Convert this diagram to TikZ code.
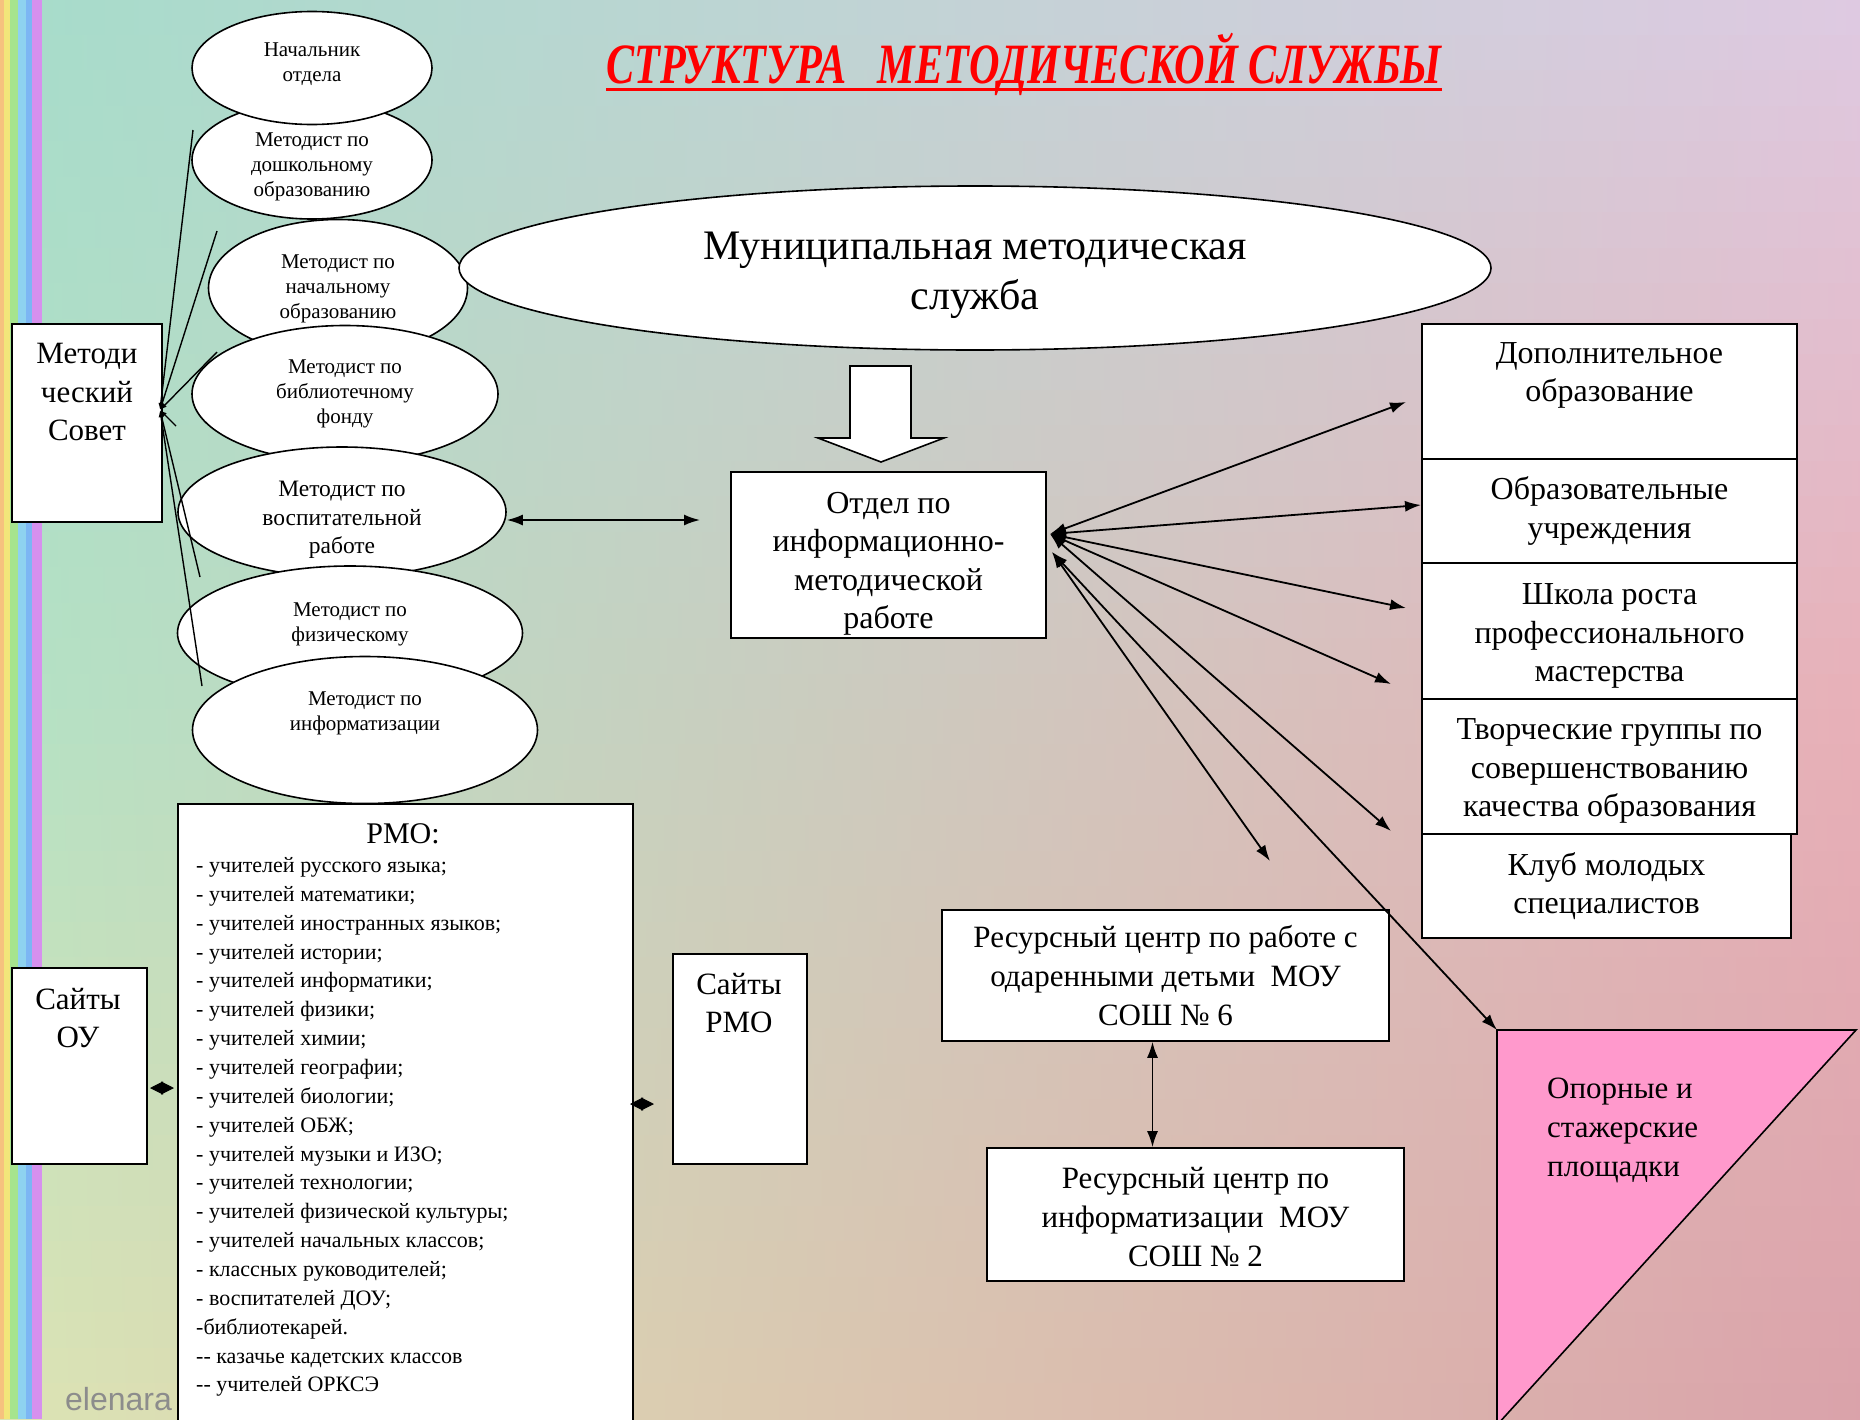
\documentclass[tikz,border=0pt]{standalone}
\usepackage{fontspec}
\setmainfont{Liberation Serif}
\newfontfamily\wmfont{Liberation Sans}
\usetikzlibrary{shapes.geometric,arrows.meta}
\definecolor{tL}{HTML}{A6DCCA}
\definecolor{tM}{HTML}{B0E2EE}
\definecolor{tR}{HTML}{DECAE2}
\definecolor{mL}{HTML}{B4E2C4}
\definecolor{mM}{HTML}{F0E4CC}
\definecolor{mR}{HTML}{E8B0B8}
\definecolor{bL}{HTML}{DCE4B4}
\definecolor{bM}{HTML}{F4C8A8}
\definecolor{bR}{HTML}{DAA2AA}
\definecolor{pinktri}{HTML}{FF99CC}
\definecolor{s1}{HTML}{F6C27E}
\definecolor{s2}{HTML}{F2E67A}
\definecolor{s3}{HTML}{A6E48E}
\definecolor{s4}{HTML}{8ED2F0}
\definecolor{s5}{HTML}{7CB6F4}
\definecolor{s6}{HTML}{D690EE}
\newcommand{\fsz}[2]{\fontsize{#1}{#2}\selectfont}
\begin{document}
\begin{tikzpicture}[x=1pt,y=-1pt,
  ell/.style={ellipse, draw, fill=white, line width=1.6pt, inner sep=0pt},
  etxt/.style={inner sep=0pt, align=center, font=\fsz{21}{25}},
  bx/.style={rectangle, draw, fill=white, line width=1.6pt, inner sep=0pt, align=center},
  txt/.style={inner sep=0pt, align=center},
  arr/.style={line width=1.8pt, {Latex[length=16pt,width=11pt]}-{Latex[length=16pt,width=11pt]}},
  mcline/.style={line width=1.4pt, {Latex[length=7pt,width=5pt]}-},
  dia/.style={line width=1pt, {Triangle[length=13pt,width=13pt]}-{Triangle[length=13pt,width=13pt]}}]
\useasboundingbox (0,0) rectangle (1860,1419);
% background
\foreach \i in {0,...,39}{%
  \pgfmathsetmacro\ya{\i*35.475}%
  \pgfmathsetmacro\yb{\ya+36.5}%
  \ifnum\i<20
    \pgfmathsetmacro\p{100-(\i+0.5)*5}%
    \colorlet{cL}{tL!\p!mL}\colorlet{cM}{tM!\p!mM}\colorlet{cR}{tR!\p!mR}%
  \else
    \pgfmathsetmacro\p{100-(\i-19.5)*5}%
    \colorlet{cL}{mL!\p!bL}\colorlet{cM}{mM!\p!bM}\colorlet{cR}{mR!\p!bR}%
  \fi
  \fill[left color=cL, middle color=cM, right color=cR] (0,\ya) rectangle (1860,\yb);
}
\fill[s1] (0,0) rectangle (4,1419);
\fill[s2] (4,0) rectangle (10,1419);
\fill[s3] (10,0) rectangle (18,1419);
\fill[s4] (18,0) rectangle (26,1419);
\fill[s5] (26,0) rectangle (32,1419);
\fill[s6] (32,0) rectangle (42,1419);
\node[anchor=base west, inner sep=0pt, text=black!45, font=\wmfont\fsz{32}{36}] (wm) at (65,1410) {elenara};
% title
\node[anchor=base, inner sep=0pt, text=red, font=\fsz{57}{64}\bfseries\itshape] (title) at (1024,83)
  {\scalebox{0.74}[1]{СТРУКТУРА\ \ \ МЕТОДИЧЕСКОЙ СЛУЖБЫ}};
\draw[red, line width=3pt] ([yshift=-6pt]title.base west) -- ([yshift=-6pt]title.base east);
% left ellipses
\node[ell, minimum width=240pt, minimum height=118pt] (e2) at (312,160) {};
\node[etxt] (e2t) at (312,167) {Методист по\\дошкольному\\образованию};
\node[ell, minimum width=240pt, minimum height=113pt] (e1) at (312,68) {};
\node[etxt] (e1t) at (312,64) {Начальник\\отдела};
\node[ell, minimum width=259pt, minimum height=137pt] (e3) at (338,288) {};
\node[etxt] (e3t) at (338,289) {Методист по\\начальному\\образованию};
\node[ell, minimum width=306pt, minimum height=137pt] (e4) at (345,394) {};
\node[etxt] (e4t) at (345,394) {Методист по\\библиотечному\\фонду};
\node[ell, minimum width=328pt, minimum height=130pt] (e5) at (342,512) {};
\node[etxt, font=\fsz{23.5}{28.5}] (e5t) at (342,520) {Методист по\\воспитательной\\работе};
\node[ell, minimum width=345pt, minimum height=134pt] (e6) at (350,633) {};
\node[etxt] (e6t) at (350,624) {Методист по\\физическому};
\node[ell, minimum width=345pt, minimum height=147pt] (e7) at (365,730) {};
\node[etxt] (e7t) at (365,713) {Методист по\\информатизации};
% methodical council
\node[bx, minimum width=150pt, minimum height=198pt] (mc) at (87,423) {};
\node[txt, font=\fsz{31}{38.5}] (mct) at (87,392) {Методи\\ческий\\Совет};
\coordinate (mcp) at (160,410);
\coordinate (l1) at (193,130);
\coordinate (l2) at (217,231);
\coordinate (l3) at (217,352);
\coordinate (l4) at (176,426);
\coordinate (l5) at (200,577);
\coordinate (l6) at (202,686);
\foreach \c in {l1,l2,l3,l4,l5,l6} \draw[mcline] (mcp) -- (\c);
% municipal service
\node[ell, minimum width=1032pt, minimum height=164pt] (mun) at (975,268) {};
\node[txt, font=\fsz{42}{50}] (munt) at (975,275) {Муниципальная методическая\\служба};
\draw[line width=1.6pt, fill=white] (850,366) -- (911,366) -- (911,438) -- (944,438) -- (881,462) -- (818,438) -- (850,438) -- cycle;
\node[bx, minimum width=315pt, minimum height=166pt] (otd) at (888.5,555) {};
\node[txt, font=\fsz{32}{38.5}] (otdt) at (888.5,564) {Отдел по\\информационно-\\методической\\работе};
\draw[arr] ([yshift=-8pt]e5.east) -- (700,520) coordinate (vr);
% right column
\begin{scope}[every node/.style={bx, minimum width=375pt, font=\fsz{32}{38.5}}]
\node[minimum height=135pt] (dop) at (1609.5,391.5) {Дополнительное\\образование\\\mbox{}};
\node[minimum height=104pt] (obr) at (1609.5,511) {Образовательные\\учреждения};
\node[minimum height=136pt] (shk) at (1609.5,631) {};
\node[minimum height=135pt] (tvr) at (1609.5,766.5) {};
\node[minimum height=104pt, minimum width=369pt] (klb) at (1606.5,886) {Клуб молодых\\специалистов};
\end{scope}
\node[txt, font=\fsz{32}{38.5}] (shkt) at (1609.5,636) {Школа роста\\профессионального\\мастерства};
\node[txt, font=\fsz{32}{38.5}] (tvrt) at (1609.5,771) {Творческие группы по\\совершенствованию\\качества образования};
% resource centres
\node[bx, minimum width=447pt, minimum height=131pt, font=\fsz{31}{39}] (r6) at (1165.5,975.5) {Ресурсный центр по работе с\\одаренными детьми\ \ МОУ\\СОШ № 6};
\node[bx, minimum width=417pt, minimum height=133pt] (r2) at (1195.5,1214.5) {};
\node[txt, font=\fsz{31}{39}] (r2t) at (1195.5,1217) {Ресурсный центр по\\информатизации\ \ МОУ\\СОШ № 2};
\draw[arr] ([xshift=-13pt]r6.south) -- ([xshift=-13pt]r6.south |- r2.north);
% triangle
\draw[line width=1.6pt, fill=pinktri] (1497,1030) coordinate (tri) -- (1856,1030) -- (1497,1425) -- cycle;
\node[inner sep=0pt, anchor=west, align=left, font=\fsz{31}{39}] (trit) at (1547,1130) {Опорные и\\стажерские\\площадки};
% fan arrows
\coordinate (fan1) at (1050,534);
\coordinate (fan2) at (1052,552);
\coordinate (a1) at (1406,402);
\coordinate (a2) at (1421,505);
\coordinate (a3) at (1406,608);
\coordinate (a4) at (1391,684);
\coordinate (a5) at (1391,831);
\coordinate (a6) at (1270,861);
\foreach \c in {a1,a2,a3,a4,a5} \draw[arr] (fan1) -- (\c);
\draw[arr] (fan2) -- (a6);
\draw[arr] (fan2) -- (tri);
% RMO
\node[bx, minimum width=455pt, minimum height=621pt] (rmo) at (405.5,1114.5) {};
\node[txt, font=\fsz{30}{36}] (rmoh) at (403,834) {РМО:};
\node[inner sep=0pt, anchor=west, align=left, font=\fsz{22}{28.86}] (rmol) at (196,1127) {%
- учителей русского языка;\\
- учителей математики;\\
- учителей иностранных языков;\\
- учителей истории;\\
- учителей информатики;\\
- учителей физики;\\
- учителей химии;\\
- учителей географии;\\
- учителей биологии;\\
- учителей ОБЖ;\\
- учителей музыки и ИЗО;\\
- учителей технологии;\\
- учителей физической культуры;\\
- учителей начальных классов;\\
- классных руководителей;\\
- воспитателей ДОУ;\\
-библиотекарей.\\
-{}- казачье кадетских классов\\
-{}- учителей ОРКСЭ};
% sites
\node[bx, minimum width=135pt, minimum height=196pt] (sou) at (79.5,1066) {};
\node[txt, font=\fsz{31}{38}] (sout) at (78,1018) {Сайты\\ОУ};
\node[bx, minimum width=134pt, minimum height=210pt] (srmo) at (740,1059) {};
\node[txt, font=\fsz{31}{38}] (srmot) at (739,1003) {Сайты\\РМО};
\coordinate (d1a) at (150,1088);
\coordinate (d1b) at (174,1088);
\coordinate (d2a) at (630,1104);
\coordinate (d2b) at (654,1104);
\draw[dia] (d1a) -- (d1b);
\draw[dia] (d2a) -- (d2b);
\end{tikzpicture}
\end{document}
